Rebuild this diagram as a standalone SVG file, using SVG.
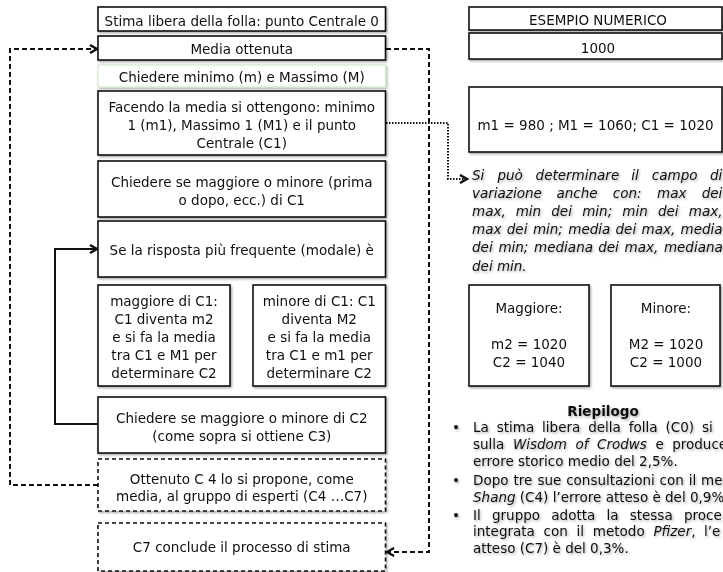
<svg xmlns="http://www.w3.org/2000/svg" width="723" height="572" viewBox="0 0 723 572">
<style>
text{font-family:"DejaVu Sans","Verdana",sans-serif;font-size:13.5px;fill:#111}
.c{text-anchor:middle}
.box{fill:#fff;stroke:#111;stroke-width:1.6}
.dbox{fill:#fff;stroke:#111;stroke-width:1.6;stroke-dasharray:4 3}
.gbox{fill:#fff;stroke:#d6e9cd;stroke-width:1.2}
.it{font-style:italic}
.b{font-weight:bold}
.dash{fill:none;stroke:#111;stroke-width:2;stroke-dasharray:5 3}
.solid{fill:none;stroke:#111;stroke-width:2}
.dot{fill:none;stroke:#111;stroke-width:2;stroke-dasharray:1.5 1.5}
.sh{filter:url(#sh)}
</style>
<defs>
<filter id="sh" x="-10%" y="-10%" width="120%" height="130%">
<feDropShadow dx="1.2" dy="1.4" stdDeviation="0.9" flood-color="#000" flood-opacity="0.35"/>
</filter>
<marker id="ah" viewBox="0 0 10 10" refX="8.5" refY="5" markerWidth="5" markerHeight="5" orient="auto" markerUnits="strokeWidth">
<path d="M1.5,1 L8.5,5 L1.5,9" fill="none" stroke="#111" stroke-width="2.4"/>
</marker>
</defs>

<g id="connectors">
<path class="dash" d="M98,485 H10 V49 H97" marker-end="url(#ah)"/>
<path class="dash" d="M386,49 H429 V552 H387" marker-end="url(#ah)"/>
<path class="solid" d="M98,424 H55 V249 H97" marker-end="url(#ah)"/>
<path class="dot" d="M386,123 H448 V179 H467" marker-end="url(#ah)"/>
</g>

<g id="n-stima" class="sh"><rect class="box" x="98" y="7" width="287.5" height="24"/><text class="c" x="241.75" y="25.5">Stima libera della folla: punto Centrale 0</text></g>
<g id="n-media" class="sh"><rect class="box" x="98" y="36" width="287.5" height="24"/><text class="c" x="241.75" y="54">Media ottenuta</text></g>
<g id="n-minmax" class="sh"><rect class="gbox" x="98" y="65" width="287.5" height="22"/><text class="c" x="241.75" y="82">Chiedere minimo (m) e Massimo (M)</text></g>
<g id="n-facendo" class="sh"><rect class="box" x="98" y="91" width="287.5" height="64"/><text class="c" x="241.75" y="112"><tspan x="241.75">Facendo la media si ottengono: minimo</tspan><tspan x="241.75" dy="18">1 (m1), Massimo 1 (M1) e il punto</tspan><tspan x="241.75" dy="18">Centrale (C1)</tspan></text></g>
<g id="n-chiedere1" class="sh"><rect class="box" x="98" y="161" width="287.5" height="56"/><text class="c" x="241.75" y="186.5"><tspan x="241.75">Chiedere se maggiore o minore (prima</tspan><tspan x="241.75" dy="18">o dopo, ecc.) di C1</tspan></text></g>
<g id="n-risposta" class="sh"><rect class="box" x="98" y="221" width="287.5" height="56"/><text class="c" x="241.75" y="255">Se la risposta più frequente (modale) è</text></g>
<g id="n-maggiore" class="sh"><rect class="box" x="98" y="285" width="132" height="101"/><text class="c" x="164" y="305.5"><tspan x="164">maggiore di C1:</tspan><tspan x="164" dy="18">C1 diventa m2</tspan><tspan x="164" dy="18">e si fa la media</tspan><tspan x="164" dy="18">tra C1 e M1 per</tspan><tspan x="164" dy="18">determinare C2</tspan></text></g>
<g id="n-minore" class="sh"><rect class="box" x="253" y="285" width="132.5" height="101"/><text class="c" x="319.25" y="305.5"><tspan x="319.25">minore di C1: C1</tspan><tspan x="319.25" dy="18">diventa M2</tspan><tspan x="319.25" dy="18">e si fa la media</tspan><tspan x="319.25" dy="18">tra C1 e m1 per</tspan><tspan x="319.25" dy="18">determinare C2</tspan></text></g>
<g id="n-chiedere2" class="sh"><rect class="box" x="98" y="397" width="287.5" height="56"/><text class="c" x="241.75" y="423"><tspan x="241.75">Chiedere se maggiore o minore di C2</tspan><tspan x="241.75" dy="18">(come sopra si ottiene C3)</tspan></text></g>
<g id="n-ottenuto" class="sh"><rect class="dbox" x="98" y="459" width="287.5" height="52"/><text class="c" x="241.75" y="483.5"><tspan x="241.75">Ottenuto C 4 lo si propone, come</tspan><tspan x="241.75" dy="17.5">media, al gruppo di esperti (C4 …C7)</tspan></text></g>
<g id="n-c7" class="sh"><rect class="dbox" x="98" y="523" width="287.5" height="48"/><text class="c" x="241.75" y="552">C7 conclude il processo di stima</text></g>

<g id="n-esempio" class="sh"><rect class="box" x="469" y="7" width="253" height="23"/><text class="c" x="598" y="24.5">ESEMPIO NUMERICO</text></g>
<g id="n-1000" class="sh"><rect class="box" x="469" y="33" width="253" height="26"/><text class="c" x="598" y="52.5">1000</text></g>
<g id="n-m1" class="sh"><rect class="box" x="469" y="87" width="253" height="65"/><text class="c" x="595.5" y="130">m1 = 980 ; M1 = 1060; C1 = 1020</text></g>

<g id="note" class="it sh">
<text y="180"><tspan x="472">Si</tspan><tspan x="497.4">può</tspan><tspan x="535.6">determinare</tspan><tspan x="631.2">il</tspan><tspan x="651.8">campo</tspan><tspan x="710">di</tspan></text>
<text y="198"><tspan x="472">variazione</tspan><tspan x="556.5">anche</tspan><tspan x="612.8">con:</tspan><tspan x="657">max</tspan><tspan x="701.7">dei</tspan></text>
<text y="216"><tspan x="472">max,</tspan><tspan x="515.7">min</tspan><tspan x="551.3">dei</tspan><tspan x="582.2">min;</tspan><tspan x="622.3">min</tspan><tspan x="657.9">dei</tspan><tspan x="688.8">max,</tspan></text>
<text y="234"><tspan x="472">max</tspan><tspan x="506.8">dei</tspan><tspan x="532.9">min;</tspan><tspan x="568.3">media</tspan><tspan x="615.5">dei</tspan><tspan x="641.6">max,</tspan><tspan x="680.6">media</tspan></text>
<text y="252"><tspan x="472">dei</tspan><tspan x="498.4">min;</tspan><tspan x="534.1">mediana</tspan><tspan x="598.2">dei</tspan><tspan x="624.6">max,</tspan><tspan x="663.9">mediana</tspan></text>
<text x="472" y="271">dei min.</text>
</g>

<g id="n-ex-maggiore" class="sh"><rect class="box" x="469" y="285" width="120" height="101"/><text class="c" x="529" y="313"><tspan x="529">Maggiore:</tspan><tspan x="529" dy="36">m2 = 1020</tspan><tspan x="529" dy="18">C2 = 1040</tspan></text></g>
<g id="n-ex-minore" class="sh"><rect class="box" x="611" y="285" width="109" height="101"/><text class="c" x="666" y="313"><tspan x="666">Minore:</tspan><tspan x="666" dy="36">M2 = 1020</tspan><tspan x="666" dy="18">C2 = 1000</tspan></text></g>

<g id="riepilogo" class="sh">
<text class="c b" x="603" y="416">Riepilogo</text>
<text x="452" y="432">•</text>
<text y="432"><tspan x="473">La</tspan><tspan x="496.7">stima</tspan><tspan x="542.1">libera</tspan><tspan x="588.2">della</tspan><tspan x="628.8">folla</tspan><tspan x="665.5">(C0)</tspan><tspan x="702">si</tspan></text>
<text y="449"><tspan x="473">sulla</tspan><tspan x="512.9" class="it">Wisdom</tspan><tspan x="575.5" class="it">of</tspan><tspan x="597" class="it">Crodws</tspan><tspan x="655.4">e</tspan><tspan x="672.2">produce</tspan></text>
<text x="473" y="466">errore storico medio del 2,5%.</text>
<text x="452" y="484.5">•</text>
<text y="484.5"><tspan x="473">Dopo</tspan><tspan x="513.4">tre</tspan><tspan x="537.4">sue</tspan><tspan x="566.2">consultazioni</tspan><tspan x="659.6">con</tspan><tspan x="688.7">il</tspan><tspan x="701.1">me</tspan></text>
<text x="473" y="501.5"><tspan class="it">Shang</tspan> (C4) l’errore atteso è del 0,9%</text>
<text x="452" y="519.5">•</text>
<text y="519.5"><tspan x="473">Il</tspan><tspan x="492">gruppo</tspan><tspan x="551.3">adotta</tspan><tspan x="606.5">la</tspan><tspan x="629.7">stessa</tspan><tspan x="683.9">proce</tspan></text>
<text y="536"><tspan x="473">integrata</tspan><tspan x="543.6">con</tspan><tspan x="576.6">il</tspan><tspan x="592.8">metodo</tspan><tspan x="653.4" class="it">Pfizer</tspan><tspan>,</tspan><tspan x="704">l’e</tspan></text>
<text x="473" y="552.5">atteso (C7) è del 0,3%.</text>
</g>
</svg>
